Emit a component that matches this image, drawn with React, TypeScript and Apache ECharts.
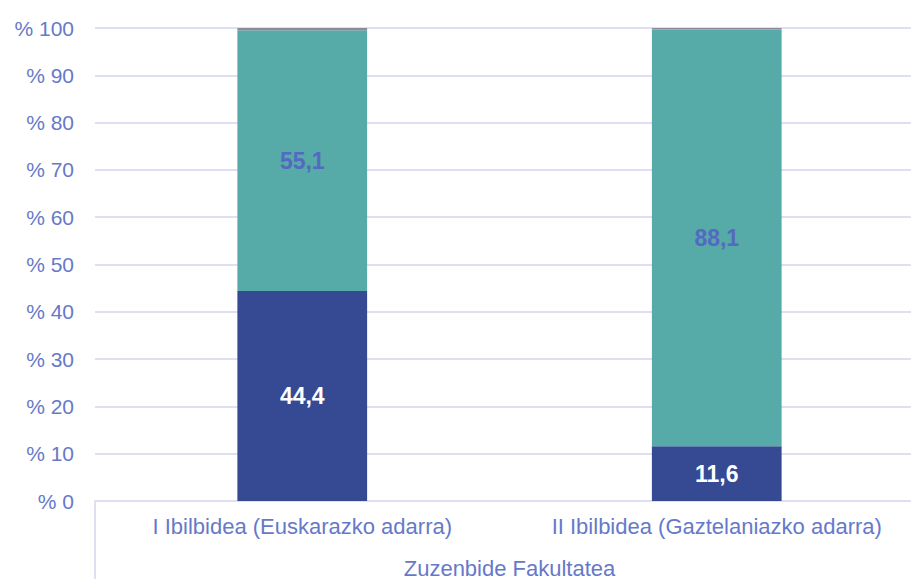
import React, { useEffect, useRef } from "react";
import * as echarts from "echarts";

const categories = ["I Ibilbidea (Euskarazko adarra)", "II Ibilbidea (Gaztelaniazko adarra)"];
const groupLabel = ["Zuzenbide Fakultatea"];
const seriesA = [44.4, 11.6];
const seriesB = [55.1, 88.1];
const seriesC = [0.5, 0.3];
const yTicks = { min: 0, max: 100, interval: 10 };

const FONT = "'Liberation Sans', Arial, sans-serif";
const TEXT = "#6679c9";
const LINE = "#dde0f2";

const fmt = (p: any) => String(p.value).replace(".", ",");

export default function App() {
  const ref = useRef<HTMLDivElement>(null);
  useEffect(() => {
    document.body.style.margin = "0";
    const chart = echarts.init(ref.current!, null, { renderer: "svg" });
    chart.setOption({
      animation: false,
      textStyle: { fontFamily: FONT },
      grid: { left: 95, right: 0, top: 28, bottom: 78 },
      xAxis: [
        {
          type: "category",
          data: categories,
          axisLine: { show: false },
          axisTick: { show: false },
          axisLabel: { color: TEXT, fontSize: 22, fontFamily: FONT, margin: 14, interval: 0, hideOverlap: false },
        },
        {
          type: "category",
          data: groupLabel,
          position: "bottom",
          axisLine: { show: true, lineStyle: { color: LINE, width: 2 } },
          axisTick: { show: true, length: 80, interval: 0, lineStyle: { color: LINE, width: 2 } },
          axisLabel: { color: TEXT, fontSize: 22, fontFamily: FONT, margin: 56, interval: 0 },
        },
      ],
      yAxis: {
        type: "value",
        min: yTicks.min,
        max: yTicks.max,
        interval: yTicks.interval,
        axisLine: { show: false },
        axisTick: { show: false },
        splitLine: { lineStyle: { color: LINE, width: 2 } },
        axisLabel: {
          color: TEXT,
          fontSize: 21,
          fontFamily: FONT,
          margin: 21,
          formatter: (v: number) => "% " + v,
        },
      },
      series: [
        {
          type: "bar",
          stack: "s",
          data: seriesA,
          barWidth: "31.3%",
          itemStyle: { color: "#354a93" },
          label: { show: true, position: "inside", color: "#ffffff", fontWeight: "bold", fontSize: 23, fontFamily: FONT, formatter: fmt },
        },
        {
          type: "bar",
          stack: "s",
          data: seriesB,
          itemStyle: { color: "#56aaa8" },
          label: { show: true, position: "inside", color: "#5469c2", fontWeight: "bold", fontSize: 23, fontFamily: FONT, formatter: fmt },
        },
        {
          type: "bar",
          stack: "s",
          data: seriesC,
          itemStyle: { color: "#8e8a9a" },
        },
      ],
    });
    return () => chart.dispose();
  }, []);
  return (
    <div style={{ width: 911, height: 579, overflow: "hidden" }}>
      <div ref={ref} style={{ width: 924, height: 579 }} />
    </div>
  );
}
